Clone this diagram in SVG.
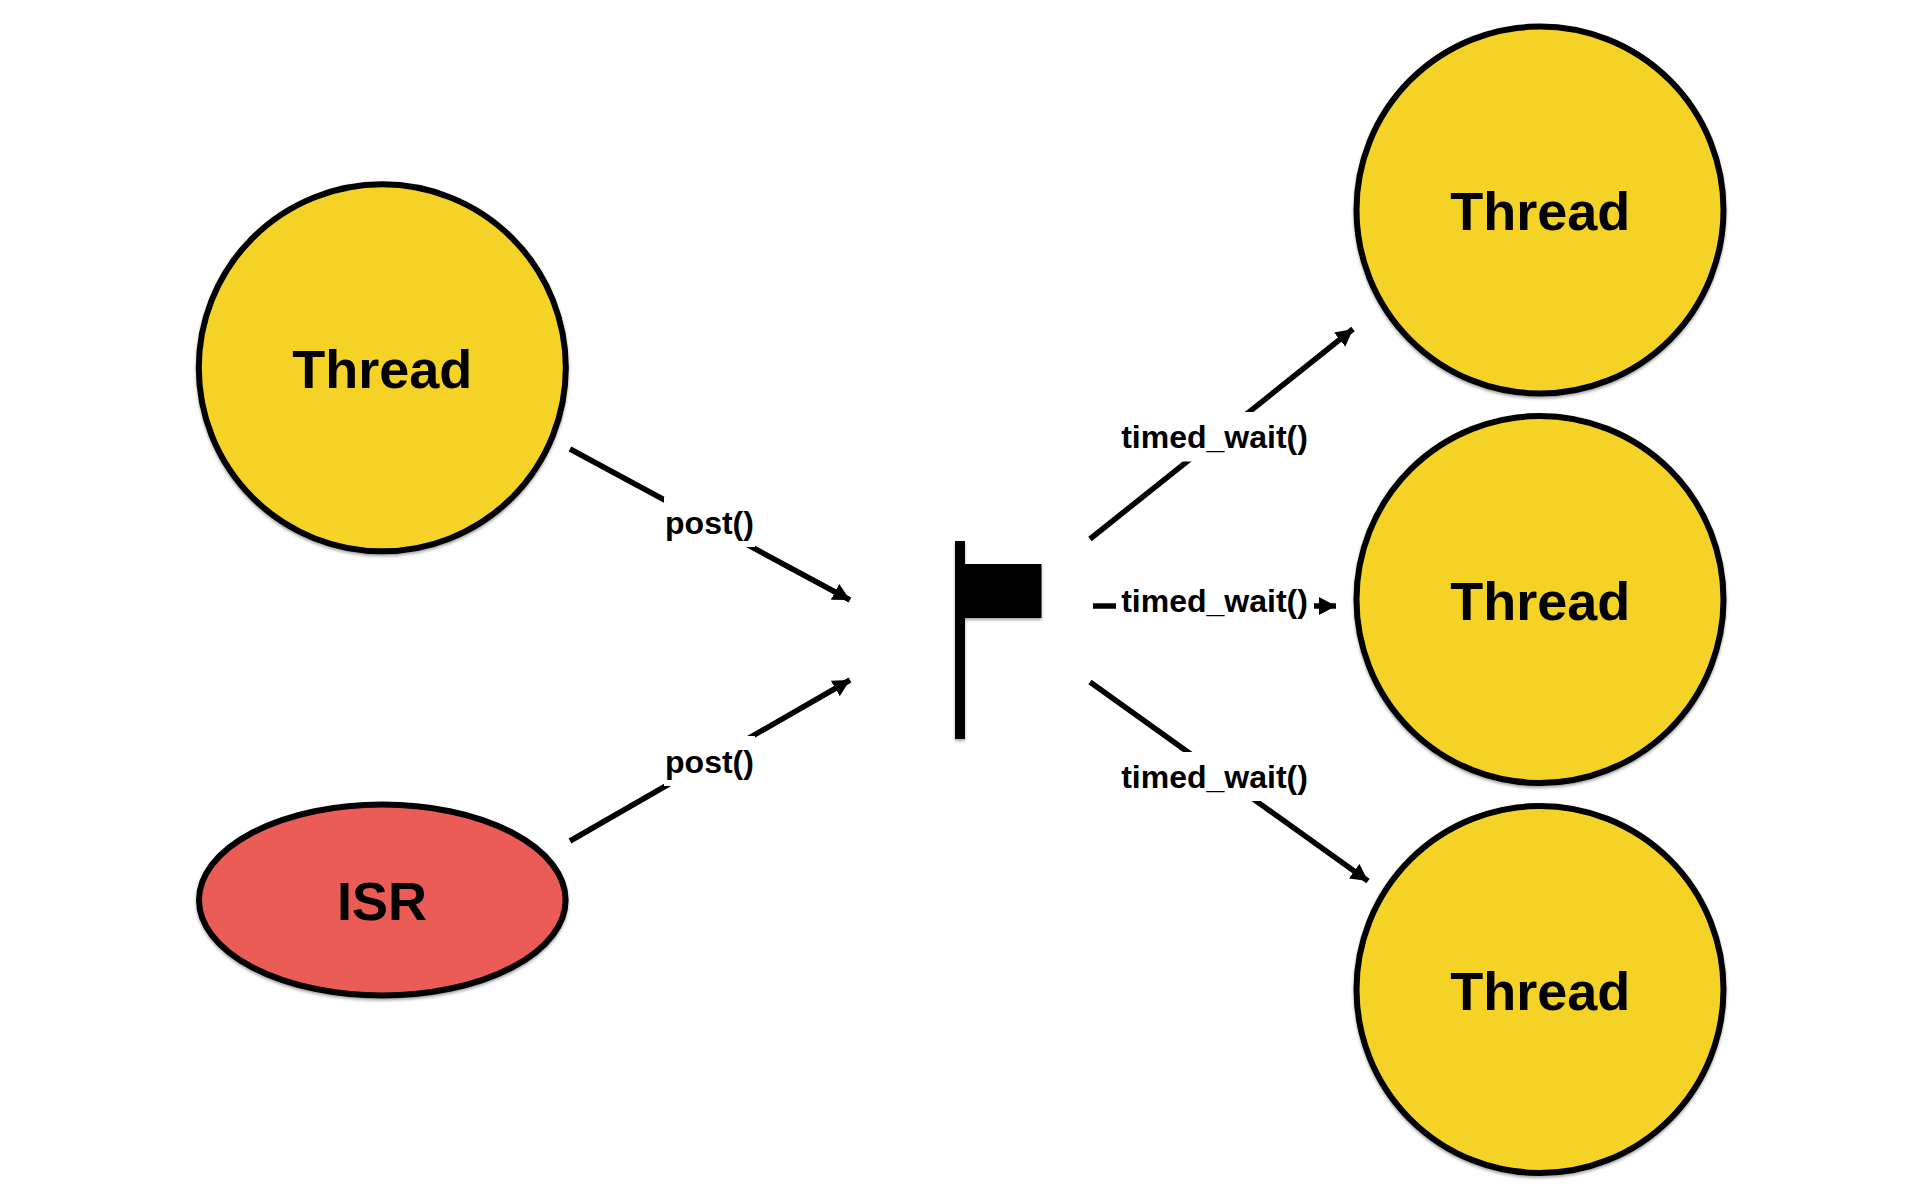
<svg xmlns="http://www.w3.org/2000/svg" width="1920" height="1200" viewBox="0 0 1920 1200">
<style>
.n{stroke:#000;stroke-width:6;filter:url(#s)}
.t{fill:#F5D327}
.r{fill:#EC5B56}
text{font-family:"Liberation Sans",Arial,sans-serif;font-weight:700;fill:#000;text-anchor:middle}
.big{font-size:54px}
.lab{font-size:32px}
.c{stroke:#000;stroke-width:5.5;fill:none;marker-end:url(#a)}
.bg{fill:#fff}
</style>
<defs>
<filter id="s" x="-10%" y="-10%" width="120%" height="120%"><feDropShadow dx="0" dy="2" stdDeviation="1.5" flood-color="#000" flood-opacity="0.35"/></filter>
<marker id="a" markerUnits="userSpaceOnUse" markerWidth="20" markerHeight="20" refX="17" refY="9" orient="auto"><path d="M0 0L17 9L0 18Z" fill="#000"/></marker>
</defs>
<rect width="1920" height="1200" fill="#fff"/>
<g id="connectors">
<path class="c" d="M570 449L850 600"/>
<path class="c" d="M570 841L850 680"/>
<path class="c" d="M1090 539L1353 329"/>
<path class="c" d="M1093 606L1336 606"/>
<path class="c" d="M1090 682L1368 881"/>
</g>
<g id="label-post-1"><rect class="bg" x="664" y="497" width="91" height="50"/><text class="lab" x="709.5" y="534">post()</text></g>
<g id="label-post-2"><rect class="bg" x="664" y="736" width="91" height="50"/><text class="lab" x="709.5" y="773">post()</text></g>
<g id="label-wait-1"><rect class="bg" x="1119" y="412" width="191" height="49.5"/><text class="lab" x="1214.5" y="448">timed_wait()</text></g>
<g id="label-wait-2"><rect class="bg" x="1116" y="576" width="198" height="50"/><text class="lab" x="1214.5" y="612">timed_wait()</text></g>
<g id="label-wait-3"><rect class="bg" x="1119" y="752" width="191" height="49"/><text class="lab" x="1214.5" y="788">timed_wait()</text></g>
<g id="thread-left"><circle class="n t" cx="382.3" cy="367.8" r="183.5"/><text class="big" x="382.3" y="388">Thread</text></g>
<g id="isr"><ellipse class="n r" cx="382.3" cy="900" rx="183.3" ry="95.5"/><text class="big" x="382" y="920">ISR</text></g>
<g id="thread-top"><circle class="n t" cx="1540" cy="210" r="183.5"/><text class="big" x="1540.2" y="230">Thread</text></g>
<g id="thread-middle"><circle class="n t" cx="1540" cy="599.5" r="183.5"/><text class="big" x="1540.2" y="620">Thread</text></g>
<g id="thread-bottom"><circle class="n t" cx="1540" cy="989.5" r="183.5"/><text class="big" x="1540.2" y="1010">Thread</text></g>
<g id="flag" filter="url(#s)"><rect x="955" y="541" width="10" height="198" fill="#000"/><rect x="965" y="564" width="76.5" height="54" fill="#000"/></g>
</svg>
